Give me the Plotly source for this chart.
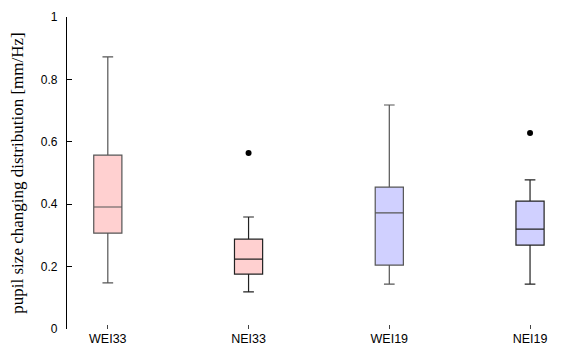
import plotly.graph_objects as go

# Pupil size changing distribution per condition (box summary statistics)
groups = ["WEI33", "NEI33", "WEI19", "NEI19"]
lower_whisker = [0.148, 0.119, 0.144, 0.144]
q1 = [0.307, 0.176, 0.205, 0.269]
median = [0.391, 0.224, 0.372, 0.320]
q3 = [0.557, 0.288, 0.455, 0.410]
upper_whisker = [0.872, 0.359, 0.718, 0.478]

outlier_groups = ["NEI33", "NEI19"]
outlier_values = [0.564, 0.628]

fill_colors = ["rgba(255,170,170,0.55)", "rgba(255,170,170,0.55)",
               "rgba(170,170,255,0.55)", "rgba(170,170,255,0.55)"]
line_colors = ["#555555", "#222222", "#555555", "#222222"]

pos = {g: i for i, g in enumerate(groups)}

fig = go.Figure()
for i, g in enumerate(groups):
    fig.add_trace(go.Box(
        x=[pos[g]],
        q1=[q1[i]], median=[median[i]], q3=[q3[i]],
        lowerfence=[lower_whisker[i]], upperfence=[upper_whisker[i]],
        width=0.2, whiskerwidth=0.38,
        fillcolor=fill_colors[i],
        line=dict(color=line_colors[i], width=1.2),
        boxpoints=False, showlegend=False, hoverinfo="skip",
    ))

fig.add_trace(go.Scatter(
    x=[pos[g] for g in outlier_groups], y=outlier_values,
    mode="markers", marker=dict(color="black", size=6),
    showlegend=False, hoverinfo="skip",
))

fig.update_layout(
    width=561, height=347,
    margin=dict(l=67, r=0, t=17, b=18),
    paper_bgcolor="white", plot_bgcolor="white",
    font=dict(family="Liberation Sans, Arial, sans-serif", size=12, color="black"),
)
fig.update_xaxes(
    range=[-0.29, 3.22], tickvals=list(range(len(groups))), ticktext=groups,
    showgrid=False, zeroline=False, showline=False,
    ticks="inside", ticklen=4, tickwidth=1, tickcolor="#444444",
    tickfont=dict(size=12.5), automargin=False,
)
fig.update_yaxes(
    range=[0, 1], tickvals=[0, 0.2, 0.4, 0.6, 0.8, 1],
    ticktext=["0", "0.2", "0.4", "0.6", "0.8", "1"],
    showgrid=False, zeroline=False, showline=True, linecolor="black", linewidth=1.2,
    ticks="inside", ticklen=5, tickwidth=1.2, tickcolor="black",
    ticklabelstandoff=6, tickfont=dict(size=12), automargin=False,
    title=dict(text="pupil size changing distribution [mm/Hz]",
               font=dict(family="Liberation Serif, Times New Roman, serif", size=17),
               standoff=12),
)

fig.write_html("out.html")
